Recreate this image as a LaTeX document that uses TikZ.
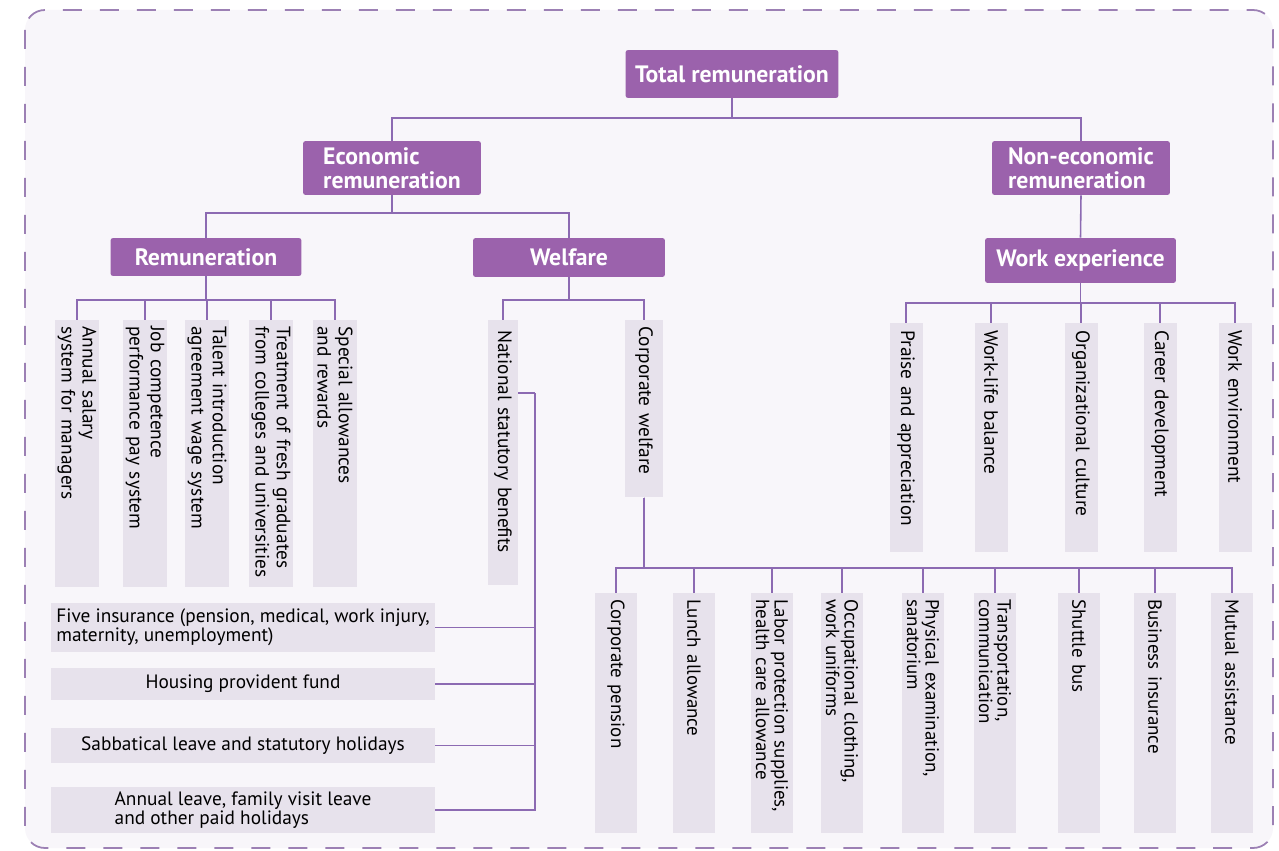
\documentclass[tikz,border=0pt]{standalone}
\usepackage{fontspec}
\setmainfont{PT Sans}
\usetikzlibrary{calc}
\pgfdeclarelayer{bg}
\pgfsetlayers{bg,main}
\definecolor{headpurple}{HTML}{9B62AC}
\definecolor{linepurple}{HTML}{8C6AB2}
\definecolor{leafgrey}{HTML}{E7E2EC}
\definecolor{framepurple}{HTML}{9C80B4}
\definecolor{paper}{HTML}{F8F6FA}
\tikzset{
  head/.style={fill=headpurple, text=white, rounded corners=1.5pt, inner sep=0pt,
    align=left, font=\fontsize{13.5}{13.5}\selectfont\bfseries},
  leaf/.style={fill=leafgrey, rotate=-90, anchor=west, align=left, inner ysep=0pt,
    font=\fontsize{11}{12}\selectfont},
  remleaf/.style={leaf, minimum height=0.88cm, text width=5.1cm, inner xsep=0.12cm},
  natleaf/.style={leaf, minimum height=0.6cm, text width=4.9cm, inner xsep=0.2cm},
  corpleaf/.style={leaf, minimum height=0.76cm, text width=3.3cm, inner xsep=0.12cm},
  workleaf/.style={leaf, minimum height=0.66cm, text width=4.3cm, inner xsep=0.14cm},
  cwleaf/.style={leaf, minimum height=0.84cm, text width=4.56cm, inner xsep=0.12cm,
    font=\fontsize{10.8}{10.5}\selectfont},
  wideleaf/.style={fill=leafgrey, minimum width=7.68cm, inner xsep=0.08cm, inner ysep=0pt,
    font=\fontsize{11}{11}\selectfont},
  link/.style={draw=linepurple, line width=0.9pt}
}

\begin{document}
\begin{tikzpicture}[x=0.02cm, y=-0.02cm]
  \useasboundingbox (0,0) rectangle (1279,851);

  % top levels
  \node [head, minimum width=4.26cm, minimum height=0.96cm] (total) at (732,74) {Total remuneration};
  \node [head, minimum width=3.56cm, minimum height=1.08cm] (econ) at (392,168) {Economic\\remuneration};
  \node [head, minimum width=3.56cm, minimum height=1.08cm] (noneco) at (1081,168) {Non-economic\\remuneration};
  \node [head, minimum width=3.82cm, minimum height=0.76cm] (remun) at (206,257) {Remuneration};
  \node [head, minimum width=3.84cm, minimum height=0.78cm] (welfare) at (569,257.5) {Welfare};
  \node [head, minimum width=3.82cm, minimum height=0.9cm] (workexp) at (1080.5,260.5) {Work experience};

  % remuneration items
  \node [remleaf] (annual) at (77,320) {Annual salary\\system for managers};
  \node [remleaf] (jobcomp) at (145,320) {Job competence\\performance pay system};
  \node [remleaf] (talent) at (207,320) {Talent introduction\\agreement wage system};
  \node [remleaf] (fresh) at (271,320) {Treatment of fresh graduates\\from colleges and universities};
  \node [remleaf] (special) at (335,320) {Special allowances\\and rewards};

  % welfare items
  \node [natleaf] (national) at (503,320) {National statutory benefits};
  \node [corpleaf] (corporate) at (644,320) {Corporate welfare};

  % work experience items
  \node [workleaf] (praise) at (906,323) {Praise and appreciation};
  \node [workleaf] (worklife) at (991,323) {Work-life balance};
  \node [workleaf] (orgculture) at (1081,323) {Organizational culture};
  \node [workleaf] (career) at (1160,323) {Career development};
  \node [workleaf] (workenv) at (1235,323) {Work environment};

  % corporate welfare items
  \node [cwleaf] (cpension) at (616,593) {Corporate pension};
  \node [cwleaf] (lunch) at (694,593) {Lunch allowance};
  \node [cwleaf] (labor) at (772,593) {\mbox{Labor protection supplies,}\\health care allowance};
  \node [cwleaf] (clothing) at (842,593) {Occupational clothing,\\work uniforms};
  \node [cwleaf] (physical) at (923,593) {Physical examination,\\sanatorium};
  \node [cwleaf] (transport) at (995,593) {Transportation,\\communication};
  \node [cwleaf] (shuttle) at (1079,593) {Shuttle bus};
  \node [cwleaf] (business) at (1155,593) {Business insurance};
  \node [cwleaf] (mutual) at (1232,593) {Mutual assistance};

  % national statutory items
  \node [wideleaf, minimum height=0.98cm, align=left] (fiveins) at (243,627.5)
    {Five insurance (pension, medical, work injury,\\ maternity, unemployment)};
  \node [wideleaf, minimum height=0.66cm] (housing) at (243,684) {Housing provident fund};
  \node [wideleaf, minimum height=0.7cm] (sabbatical) at (243,745.5) {Sabbatical leave and statutory holidays};
  \node [wideleaf, minimum height=0.92cm, align=left] (annualleave) at (243,810)
    {Annual leave, family visit leave\\and other paid holidays};

  % connectors
  \coordinate (b1) at (0,118);
  \coordinate (b2) at (0,213);
  \coordinate (b3) at (0,300);
  \coordinate (b4) at (0,303);
  \coordinate (b5) at (0,568);
  \coordinate (spine) at (535,393);
  \draw [link] (total.south) -- (total.south |- b1);
  \draw [link] (econ.north) |- (noneco.north |- b1) -- (noneco.north);
  \draw [link] (econ.south) -- (econ.south |- b2);
  \draw [link] (remun.north) |- (welfare.north |- b2) -- (welfare.north);
  \draw [link] (noneco.south) -- (workexp.north);
  \foreach \n in {annual,jobcomp,talent,fresh,special}
    \draw [link] (remun.south) |- (\n.west |- b3) -- (\n.west);
  \foreach \n in {national,corporate}
    \draw [link] (welfare.south) |- (\n.west |- b3) -- (\n.west);
  \foreach \n in {praise,worklife,orgculture,career,workenv}
    \draw [link] (workexp.south) |- (\n.west |- b4) -- (\n.west);
  \foreach \n in {cpension,lunch,labor,clothing,physical,transport,shuttle,business,mutual}
    \draw [link] (corporate.east) |- (\n.west |- b5) -- (\n.west);
  \draw [link] (national.north |- spine) -- (spine);
  \foreach \n in {fiveins,housing,sabbatical,annualleave}
    \draw [link] (\n.east) -| (spine);

  \begin{pgfonlayer}{bg}    % frame behind everything
    \fill [white] (0,0) rectangle (1279,851);
    \draw [framepurple, fill=paper, line width=1pt, dash pattern=on 0.38cm off 0.36cm,
      rounded corners=0.4cm] (25,10) rectangle (1273,848);
  \end{pgfonlayer}
\end{tikzpicture}
\end{document}
